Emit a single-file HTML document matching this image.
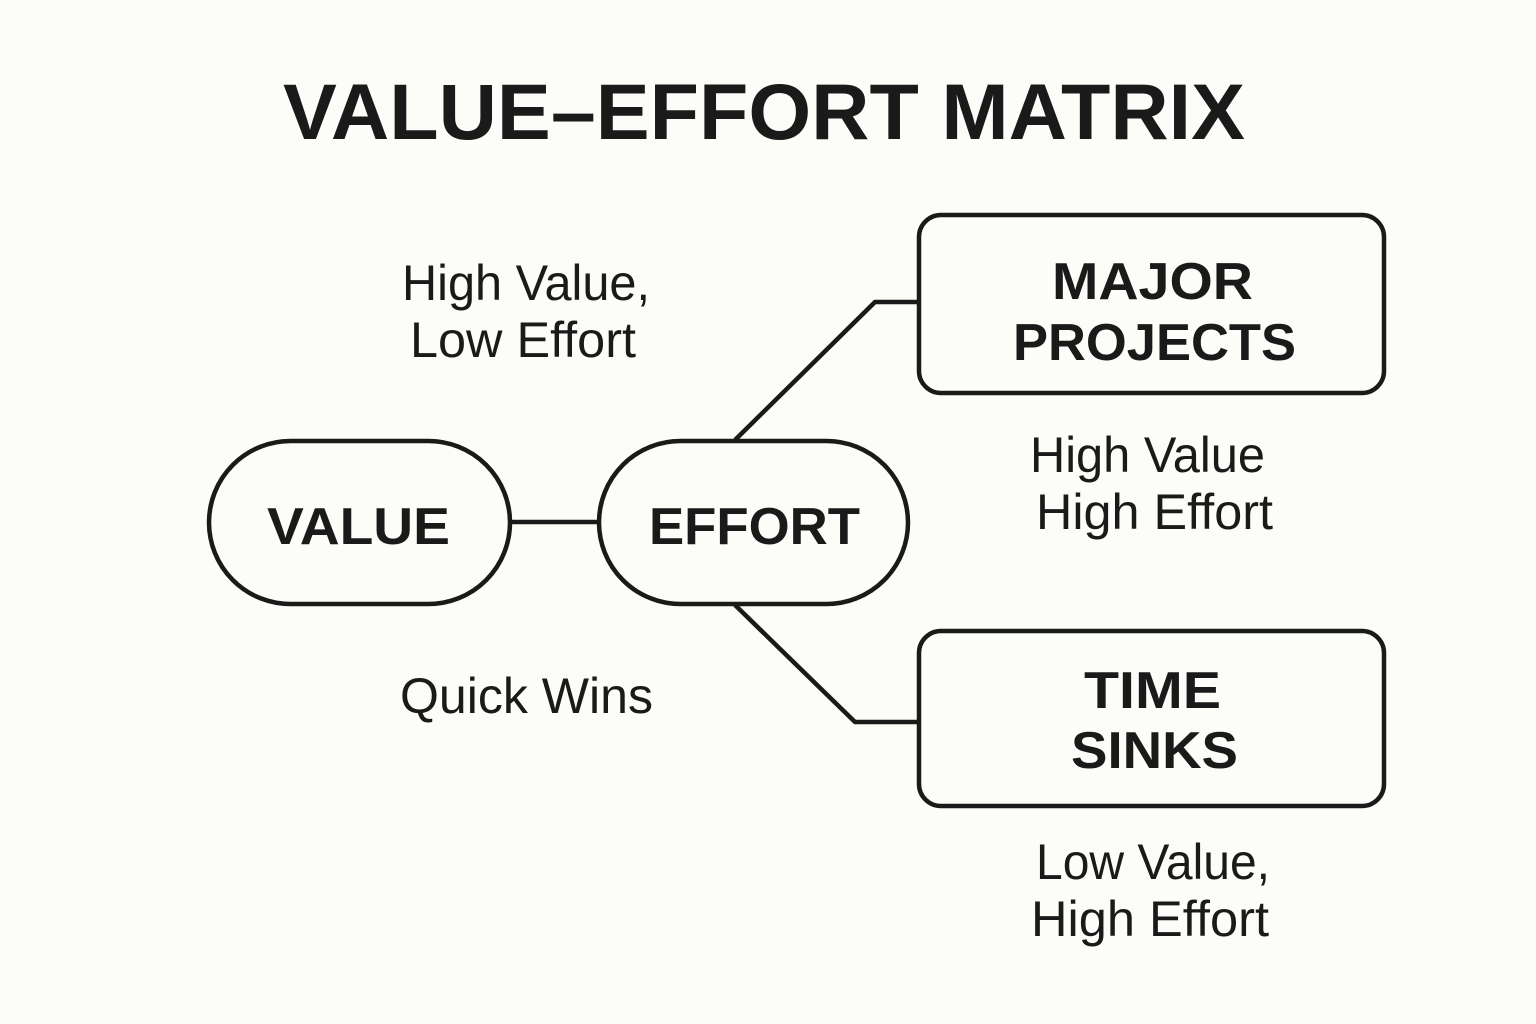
<!DOCTYPE html>
<html><head><meta charset="utf-8"><style>
html,body{margin:0;padding:0;background:#fcfcf9;}
svg{display:block;}
text{font-family:"Liberation Sans","DejaVu Sans",sans-serif;fill:#1a1a1a;}
.b{font-weight:bold;}
</style></head><body>
<svg width="1536" height="1024" viewBox="0 0 1536 1024" xmlns="http://www.w3.org/2000/svg">
<rect width="1536" height="1024" fill="#fcfcf9"/>
<text class="b" x="283" y="139" font-size="79" textLength="962" lengthAdjust="spacingAndGlyphs">VALUE–EFFORT MATRIX</text>
<g fill="none" stroke="#1a1a1a" stroke-width="4.5" stroke-linejoin="round">
<rect x="209" y="441" width="301" height="163" rx="81.5"/>
<rect x="599" y="441" width="309" height="163" rx="81.5"/>
<line x1="510" y1="522" x2="599" y2="522"/>
<polyline points="735,440 875,302 918,302"/>
<polyline points="735,605 855,722 918,722"/>
<rect x="919" y="215" width="465" height="178" rx="22"/>
<rect x="919" y="631" width="465" height="175" rx="22"/>
</g>
<text class="b" x="267" y="544" font-size="52" textLength="183" lengthAdjust="spacingAndGlyphs">VALUE</text>
<text class="b" x="649" y="544" font-size="52" textLength="211" lengthAdjust="spacingAndGlyphs">EFFORT</text>
<text class="b" x="1052" y="299" font-size="52" textLength="201" lengthAdjust="spacingAndGlyphs">MAJOR</text>
<text class="b" x="1013" y="360" font-size="52" textLength="283" lengthAdjust="spacingAndGlyphs">PROJECTS</text>
<text class="b" x="1084" y="708" font-size="52" textLength="137" lengthAdjust="spacingAndGlyphs">TIME</text>
<text class="b" x="1071" y="768" font-size="52" textLength="167" lengthAdjust="spacingAndGlyphs">SINKS</text>
<text x="402" y="300" font-size="50" textLength="248" lengthAdjust="spacingAndGlyphs">High Value,</text>
<text x="410" y="357" font-size="50" textLength="226" lengthAdjust="spacingAndGlyphs">Low Effort</text>
<text x="1030" y="472" font-size="50" textLength="235" lengthAdjust="spacingAndGlyphs">High Value</text>
<text x="1036" y="529" font-size="50" textLength="237" lengthAdjust="spacingAndGlyphs">High Effort</text>
<text x="400" y="713" font-size="50" textLength="253" lengthAdjust="spacingAndGlyphs">Quick Wins</text>
<text x="1036" y="879" font-size="50" textLength="234" lengthAdjust="spacingAndGlyphs">Low Value,</text>
<text x="1031" y="936" font-size="50" textLength="238" lengthAdjust="spacingAndGlyphs">High Effort</text>
</svg>
</body></html>
